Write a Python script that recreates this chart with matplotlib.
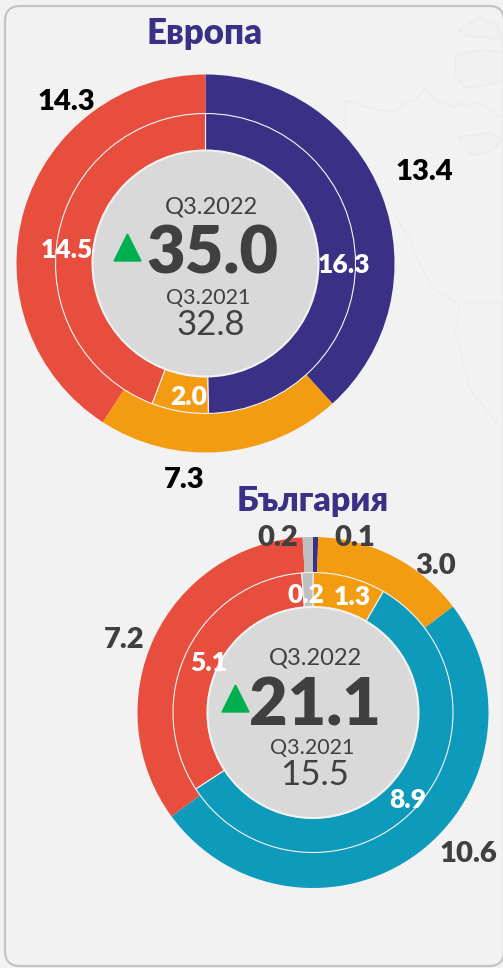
import matplotlib
matplotlib.use("Agg")
import matplotlib.pyplot as plt
from matplotlib.patches import FancyBboxPatch, Circle, Polygon

plt.rcParams['font.family'] = ['Lato', 'Open Sans', 'DejaVu Sans']

W, H = 503, 968
BLUE, RED, ORANGE, TEAL, GREY = '#3A3085', '#E84E3D', '#F39C12', '#0E9ABB', '#BFBFBF'
DARK = '#404040'
BOLD = 'heavy'

eu_outer = [13.4, 7.3, 14.3]
eu_outer_colors = [BLUE, ORANGE, RED]
eu_inner = [16.3, 2.0, 14.5]
eu_inner_colors = [BLUE, ORANGE, RED]
eu_total_now, eu_total_prev = 35.0, 32.8

bg_outer = [0.1, 3.0, 10.6, 7.2, 0.2]
bg_outer_colors = [BLUE, ORANGE, TEAL, RED, GREY]
bg_inner = [1.3, 8.9, 5.1, 0.2]
bg_inner_colors = [ORANGE, TEAL, RED, GREY]
bg_total_now, bg_total_prev = 21.1, 15.5

# faint decorative map in the panel background (pixel positions, not data)
map_lines = [
    [(345, 125), (345, 100), (360, 105), (378, 110), (395, 112), (405, 103), (415, 100), (425, 89),
     (435, 100), (455, 108), (457, 103), (465, 106), (480, 103), (503, 118)],
    [(395, 215), (410, 240), (425, 275), (435, 290), (460, 305), (455, 330), (470, 390), (503, 430)],
    [(465, 302), (503, 302)],
]
map_blobs = [
    [(458, 30), (480, 17), (497, 25), (503, 40), (480, 37), (470, 37)],
    [(456, 55), (480, 50), (503, 52), (503, 80), (490, 85), (465, 88), (455, 75)],
    [(458, 137), (490, 133), (503, 140), (490, 152), (470, 155)],
]

fig = plt.figure(figsize=(W / 100, H / 100), dpi=100, facecolor='#F2F2F2')
ax = fig.add_axes([0, 0, 1, 1])


def Y(py):
    return H - py


def label(x, y, s, size, color=DARK, weight='normal'):
    ax.text(x, Y(y), s, fontsize=size, color=color, fontweight=weight,
            ha='center', va='center_baseline', zorder=10)


def donut(cx, cy, r_out, r_mid, r_hole, outer, outer_c, inner, inner_c):
    c = (cx, Y(cy))
    ax.pie(outer, colors=outer_c, center=c, radius=r_out, startangle=90, counterclock=False,
           wedgeprops=dict(width=r_out - r_mid, linewidth=0), normalize=True)
    ax.pie(inner, colors=inner_c, center=c, radius=r_mid, startangle=90, counterclock=False,
           wedgeprops=dict(width=r_mid - r_hole, edgecolor='#F2F2F2', linewidth=0.8), normalize=True)
    ax.add_patch(Circle(c, r_hole, facecolor='#D9D9D9', edgecolor='#F2F2F2', linewidth=1.5, zorder=5))


panel = FancyBboxPatch((5, Y(966)), 499, 960, boxstyle='round,pad=0,rounding_size=15',
                       facecolor='#F2F2F2', edgecolor='#C4C4C4', linewidth=1.6, zorder=0)
ax.add_patch(panel)

for pts in map_blobs:
    ax.add_patch(Polygon([(x, Y(y)) for x, y in pts], facecolor='#F0F0F0', edgecolor='#EBEBEB',
                         linewidth=0.8, zorder=0.5))
for pts in map_lines:
    ax.plot([p[0] for p in pts], [Y(p[1]) for p in pts], color='#EBEBEB', linewidth=0.8, zorder=0.5)

donut(205.5, 263.5, 189, 150, 113, eu_outer, eu_outer_colors, eu_inner, eu_inner_colors)
donut(313, 712.5, 175.5, 140, 105.5, bg_outer, bg_outer_colors, bg_inner, bg_inner_colors)

ax.set_xlim(0, W)
ax.set_ylim(0, H)
ax.set_aspect('auto')
ax.axis('off')

# Европа
label(205, 30, 'Европа', 25, BLUE, BOLD)
label(424, 169, f'{eu_outer[0]:.1f}', 21, 'black', BOLD)
label(184, 477, f'{eu_outer[1]:.1f}', 21, 'black', BOLD)
label(66, 99, f'{eu_outer[2]:.1f}', 21, 'black', BOLD)
label(344, 263, f'{eu_inner[0]:.1f}', 19, 'white', BOLD)
label(189, 395, f'{eu_inner[1]:.1f}', 19, 'white', BOLD)
label(67, 248, f'{eu_inner[2]:.1f}', 19, 'white', BOLD)
label(211, 205, 'Q3.2022', 17)
label(212, 248, f'{eu_total_now:.1f}', 48, DARK, BOLD)
label(208, 296, 'Q3.2021', 15.5)
label(211, 322, f'{eu_total_prev:.1f}', 25)
ax.add_patch(Polygon([(114, Y(261)), (141, Y(261)), (127.5, Y(234))], color='#00B050', zorder=10))

# България
label(313, 498, 'България', 24.5, BLUE, BOLD)
label(355, 535, f'{bg_outer[0]:.1f}', 21, DARK, BOLD)
label(436, 564, f'{bg_outer[1]:.1f}', 21, DARK, BOLD)
label(468, 852, f'{bg_outer[2]:.1f}', 21, DARK, BOLD)
label(124, 638, f'{bg_outer[3]:.1f}', 21, DARK, BOLD)
label(278, 535, f'{bg_outer[4]:.1f}', 21, DARK, BOLD)
label(352, 595, f'{bg_inner[0]:.1f}', 19, 'white', BOLD)
label(408, 798, f'{bg_inner[1]:.1f}', 19, 'white', BOLD)
label(209, 661, f'{bg_inner[2]:.1f}', 19, 'white', BOLD)
label(306, 593, f'{bg_inner[3]:.1f}', 19, 'white', BOLD)
label(315, 656, 'Q3.2022', 17)
label(315, 700, f'{bg_total_now:.1f}', 48, DARK, BOLD)
label(312, 746, 'Q3.2021', 15.5)
label(315, 772, f'{bg_total_prev:.1f}', 25)
ax.add_patch(Polygon([(222, Y(712)), (249, Y(712)), (235.5, Y(685))], color='#00B050', zorder=10))

fig.savefig('out.png', dpi=100, facecolor=fig.get_facecolor())
